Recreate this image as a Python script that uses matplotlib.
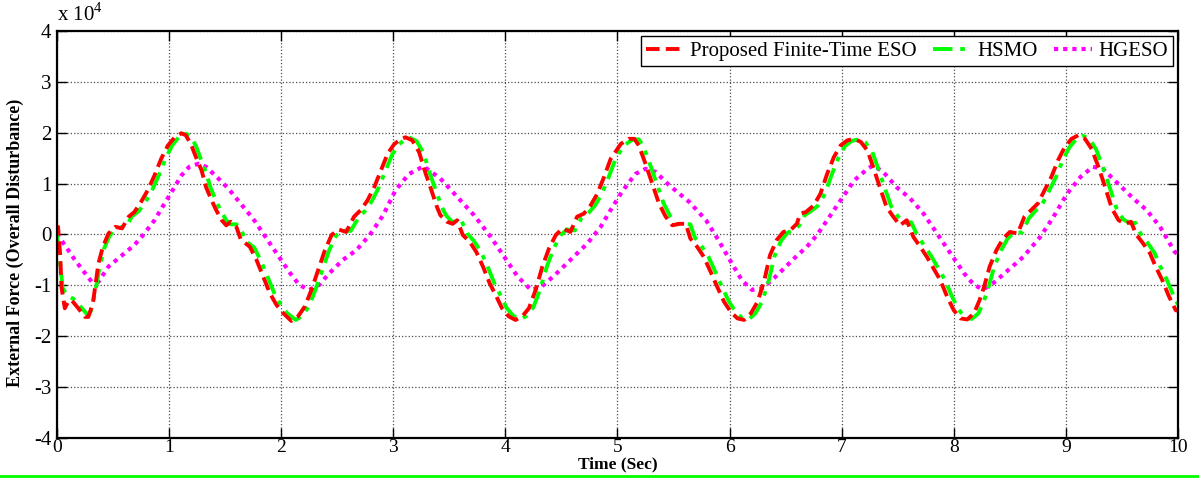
import numpy as np
import matplotlib
matplotlib.use("Agg")
import matplotlib.pyplot as plt
from matplotlib.lines import Line2D
from matplotlib.ticker import FuncFormatter

# values, force in units of 1e4 N
red_pts = [
    (0.00, 0.05), (0.01, 0.15), (0.03, -0.44), (0.04, -1.03), (0.07, -1.45), (0.10, -1.32),
    (0.13, -1.29), (0.19, -1.45), (0.25, -1.62), (0.28, -1.62), (0.32, -1.36), (0.37, -0.57),
    (0.41, -0.24), (0.46, 0.02), (0.52, 0.15), (0.58, 0.12), (0.64, 0.35), (0.69, 0.44),
    (0.75, 0.64), (0.81, 0.87), (0.87, 1.16), (0.93, 1.49), (0.99, 1.75), (1.05, 1.91),
    (1.11, 1.99), (1.15, 1.95), (1.20, 1.75), (1.24, 1.52), (1.29, 1.26), (1.33, 0.93),
    (1.38, 0.67), (1.42, 0.48), (1.47, 0.28), (1.51, 0.18), (1.55, 0.25), (1.60, 0.15),
    (1.64, -0.10), (1.72, -0.24), (1.78, -0.50), (1.84, -0.83), (1.90, -1.16), (1.96, -1.39),
    (2.02, -1.55), (2.09, -1.70), (2.15, -1.61), (2.21, -1.42), (2.27, -1.09), (2.33, -0.70),
    (2.39, -0.31), (2.45, -0.01), (2.51, 0.10), (2.58, 0.05), (2.65, 0.35), (2.71, 0.48),
    (2.77, 0.67), (2.83, 0.93), (2.89, 1.26), (2.95, 1.59), (3.01, 1.78), (3.07, 1.88),
    (3.11, 1.91), (3.17, 1.85), (3.23, 1.62), (3.29, 1.19), (3.34, 0.87), (3.39, 0.54),
    (3.42, 0.38), (3.48, 0.25), (3.53, 0.21), (3.57, 0.28), (3.62, -0.01), (3.68, -0.14),
    (3.74, -0.34), (3.80, -0.63), (3.86, -0.96), (3.92, -1.22), (3.97, -1.45), (4.03, -1.61),
    (4.09, -1.68), (4.15, -1.61), (4.21, -1.45), (4.27, -1.09), (4.33, -0.63), (4.39, -0.27),
    (4.45, -0.01), (4.51, 0.12), (4.58, 0.05), (4.64, 0.35), (4.70, 0.41), (4.76, 0.57),
    (4.82, 0.80), (4.88, 1.13), (4.94, 1.49), (4.98, 1.62), (5.03, 1.78), (5.10, 1.88),
    (5.15, 1.88), (5.19, 1.75), (5.25, 1.39), (5.31, 1.00), (5.37, 0.61), (5.43, 0.35),
    (5.49, 0.18), (5.55, 0.21), (5.61, 0.21), (5.65, -0.08), (5.71, -0.24), (5.77, -0.44),
    (5.83, -0.73), (5.89, -1.03), (5.95, -1.32), (6.01, -1.52), (6.07, -1.65), (6.13, -1.68),
    (6.19, -1.55), (6.25, -1.32), (6.31, -0.90), (6.36, -0.41), (6.42, -0.11), (6.48, 0.05),
    (6.54, 0.08), (6.60, 0.21), (6.63, 0.41), (6.68, 0.44), (6.75, 0.57), (6.81, 0.80),
    (6.87, 1.19), (6.93, 1.52), (6.99, 1.75), (7.05, 1.85), (7.11, 1.88), (7.17, 1.82),
    (7.23, 1.65), (7.28, 1.33), (7.34, 0.93), (7.40, 0.54), (7.46, 0.35), (7.52, 0.18),
    (7.58, 0.28), (7.64, -0.05), (7.70, -0.24), (7.76, -0.44), (7.82, -0.67), (7.88, -0.90),
    (7.94, -1.22), (8.00, -1.49), (8.06, -1.65), (8.12, -1.67), (8.18, -1.55), (8.23, -1.29),
    (8.27, -1.03), (8.32, -0.63), (8.38, -0.31), (8.44, -0.08), (8.50, 0.05), (8.57, 0.02),
    (8.63, 0.35), (8.69, 0.48), (8.75, 0.61), (8.81, 0.87), (8.87, 1.13), (8.93, 1.46),
    (8.99, 1.72), (9.05, 1.88), (9.11, 1.95), (9.17, 1.88), (9.23, 1.68), (9.29, 1.33),
    (9.35, 0.93), (9.41, 0.51), (9.47, 0.28), (9.53, 0.21), (9.58, 0.25), (9.63, -0.01),
    (9.69, -0.18), (9.75, -0.37), (9.80, -0.63), (9.86, -0.90), (9.92, -1.22), (9.98, -1.49),
    (10.00, -1.50),
]

green_pts = [
    (0.00, 0.00), (0.02, -0.35), (0.05, -1.05), (0.09, -1.20), (0.15, -1.27), (0.21, -1.42),
    (0.27, -1.57), (0.30, -1.52), (0.34, -1.15), (0.38, -0.65), (0.42, -0.28), (0.47, -0.02),
    (0.52, 0.10), (0.57, 0.14), (0.62, 0.17), (0.67, 0.36), (0.73, 0.46), (0.79, 0.64),
    (0.85, 0.88), (0.91, 1.17), (0.97, 1.50), (1.03, 1.76), (1.09, 1.92), (1.15, 1.98),
    (1.19, 1.94), (1.24, 1.74), (1.28, 1.50), (1.33, 1.22), (1.37, 0.92), (1.42, 0.66),
    (1.46, 0.47), (1.51, 0.28), (1.55, 0.20), (1.60, 0.20), (1.64, 0.12), (1.68, -0.12),
    (1.76, -0.26), (1.82, -0.52), (1.88, -0.84), (1.94, -1.16), (2.00, -1.40), (2.06, -1.56),
    (2.13, -1.68), (2.19, -1.60), (2.25, -1.40), (2.31, -1.06), (2.37, -0.68), (2.43, -0.30),
    (2.49, -0.02), (2.55, 0.08), (2.62, 0.07), (2.69, 0.33), (2.75, 0.47), (2.81, 0.66),
    (2.87, 0.92), (2.93, 1.25), (2.99, 1.57), (3.05, 1.77), (3.11, 1.88), (3.15, 1.90),
    (3.21, 1.83), (3.27, 1.60), (3.33, 1.18), (3.38, 0.86), (3.43, 0.55), (3.47, 0.38),
    (3.52, 0.26), (3.57, 0.24), (3.61, 0.26), (3.66, 0.02), (3.72, -0.13), (3.78, -0.33),
    (3.84, -0.62), (3.90, -0.95), (3.96, -1.21), (4.01, -1.44), (4.07, -1.60), (4.13, -1.67),
    (4.19, -1.60), (4.25, -1.43), (4.31, -1.08), (4.37, -0.63), (4.43, -0.28), (4.49, -0.02),
    (4.55, 0.10), (4.62, 0.08), (4.68, 0.33), (4.74, 0.42), (4.80, 0.57), (4.86, 0.80),
    (4.92, 1.12), (4.98, 1.47), (5.02, 1.62), (5.07, 1.77), (5.14, 1.87), (5.19, 1.87),
    (5.23, 1.74), (5.29, 1.38), (5.35, 1.00), (5.41, 0.62), (5.47, 0.36), (5.53, 0.20),
    (5.59, 0.21), (5.65, 0.20), (5.69, -0.06), (5.75, -0.23), (5.81, -0.43), (5.87, -0.72),
    (5.93, -1.02), (5.99, -1.30), (6.05, -1.51), (6.11, -1.64), (6.17, -1.67), (6.23, -1.55),
    (6.29, -1.32), (6.35, -0.90), (6.40, -0.43), (6.46, -0.12), (6.52, 0.04), (6.58, 0.09),
    (6.64, 0.22), (6.67, 0.38), (6.72, 0.45), (6.79, 0.57), (6.85, 0.80), (6.91, 1.17),
    (6.97, 1.50), (7.03, 1.74), (7.09, 1.84), (7.15, 1.87), (7.21, 1.81), (7.27, 1.64),
    (7.32, 1.33), (7.38, 0.94), (7.44, 0.56), (7.50, 0.36), (7.56, 0.22), (7.62, 0.24),
    (7.68, -0.04), (7.74, -0.23), (7.80, -0.43), (7.86, -0.66), (7.92, -0.89), (7.98, -1.20),
    (8.04, -1.47), (8.10, -1.63), (8.16, -1.66), (8.22, -1.55), (8.27, -1.30), (8.31, -1.03),
    (8.36, -0.64), (8.42, -0.32), (8.48, -0.08), (8.54, 0.04), (8.61, 0.04), (8.67, 0.32),
    (8.73, 0.47), (8.79, 0.60), (8.85, 0.86), (8.91, 1.12), (8.97, 1.45), (9.03, 1.71),
    (9.09, 1.87), (9.15, 1.94), (9.21, 1.88), (9.27, 1.67), (9.33, 1.32), (9.39, 0.93),
    (9.45, 0.52), (9.51, 0.30), (9.57, 0.22), (9.62, 0.23), (9.67, 0.00), (9.73, -0.17),
    (9.79, -0.36), (9.84, -0.62), (9.90, -0.89), (9.96, -1.20), (10.00, -1.38),
]

magenta_pts = [
    (0.00, 0.02), (0.07, -0.21), (0.16, -0.50), (0.25, -0.76), (0.31, -0.93), (0.37, -0.93),
    (0.46, -0.63), (0.58, -0.41), (0.69, -0.21), (0.78, 0.02), (0.87, 0.28), (0.96, 0.61),
    (1.04, 0.90), (1.11, 1.16), (1.18, 1.33), (1.26, 1.39), (1.33, 1.33), (1.44, 1.10),
    (1.53, 0.90), (1.63, 0.63), (1.75, 0.31), (1.87, -0.08), (1.99, -0.47), (2.08, -0.76),
    (2.16, -0.99), (2.25, -1.09), (2.34, -0.99), (2.43, -0.76), (2.55, -0.50), (2.67, -0.31),
    (2.79, -0.01), (2.91, 0.38), (3.02, 0.87), (3.14, 1.19), (3.27, 1.34), (3.42, 1.10),
    (3.57, 0.74), (3.72, 0.38), (3.87, -0.05), (3.99, -0.44), (4.11, -0.83), (4.23, -1.09),
    (4.32, -1.03), (4.44, -0.80), (4.58, -0.50), (4.73, -0.18), (4.85, 0.15), (4.93, 0.45),
    (5.04, 0.84), (5.16, 1.19), (5.25, 1.29), (5.34, 1.23), (5.46, 0.97), (5.64, 0.64),
    (5.79, 0.28), (5.90, -0.11), (6.02, -0.57), (6.11, -0.90), (6.20, -1.09), (6.29, -1.06),
    (6.41, -0.83), (6.53, -0.57), (6.60, -0.42), (6.69, -0.24), (6.78, -0.01), (6.87, 0.28),
    (6.99, 0.67), (7.11, 1.06), (7.23, 1.29), (7.28, 1.36), (7.37, 1.23), (7.49, 0.93),
    (7.61, 0.71), (7.73, 0.41), (7.85, 0.02), (7.97, -0.37), (8.09, -0.76), (8.18, -0.99),
    (8.26, -1.08), (8.35, -0.96), (8.47, -0.73), (8.62, -0.44), (8.77, -0.05), (8.89, 0.35),
    (9.01, 0.80), (9.13, 1.13), (9.24, 1.33), (9.33, 1.29), (9.45, 1.03), (9.60, 0.71),
    (9.72, 0.48), (9.84, 0.15), (9.97, -0.34), (10.00, -0.40),
]

labels = ["Proposed Finite-Time ESO", "HSMO", "HGESO"]
x_ticks = list(range(0, 11))
y_ticks = list(range(-4, 5))
scale = 1e4

plt.rcParams["font.family"] = ["Liberation Serif", "DejaVu Serif"]
plt.rcParams["mathtext.fontset"] = "custom"
plt.rcParams["mathtext.rm"] = "Liberation Serif"

fig = plt.figure(figsize=(11.99, 4.95), dpi=100)
ax = fig.add_axes([0.0475, 0.1152, 0.935, 0.8222])

t_r, y_r = np.array(red_pts).T
t_g, y_g = np.array(green_pts).T
t_m, y_m = np.array(magenta_pts).T

ax.plot(t_m, y_m * scale, color=(1, 0, 1), ls=(0, (1, 1.2)), lw=3, label=labels[2])
ax.plot(t_g, y_g * scale, color=(0, 1, 0), ls=(0, (5, 2, 1.2, 2)), lw=2.8, label=labels[1])
ax.plot(t_r, y_r * scale, color=(1, 0, 0), ls=(0, (3.5, 1.6)), lw=2.8, label=labels[0])

ax.set_xlim(0, 10)
ax.set_ylim(-4 * scale, 4 * scale)
ax.set_xticks(x_ticks)
ax.set_yticks([v * scale for v in y_ticks])
ax.yaxis.set_major_formatter(FuncFormatter(lambda v, p: "%d" % round(v / scale)))
ax.grid(True, color="0.3", ls=":", lw=0.9)
ax.tick_params(direction="in", length=7, width=1, top=True, right=True, labelsize=15, pad=4)
ax.tick_params(axis="x", labelsize=14, pad=1)
for s in ax.spines.values():
    s.set_linewidth(1.6)

ax.set_xlabel("Time (Sec)", fontsize=12.5, fontweight="bold", labelpad=0)
ax.set_ylabel("External Force (Overall Disturbance)", fontsize=13, fontweight="bold")
ax.yaxis.set_label_coords(-0.029, 0.48)
ax.text(0.0, 1.012, r"x 10$^{4}$", transform=ax.transAxes, fontsize=15, ha="left", va="bottom")

h, l = ax.get_legend_handles_labels()
order = [2, 1, 0]
leg = ax.legend([h[i] for i in order], [l[i] for i in order], loc="upper right", ncol=3,
                fontsize=15, fancybox=False, edgecolor="k", framealpha=1, handlelength=1.8,
                handletextpad=0.3, columnspacing=0.8, borderpad=0.25, borderaxespad=0.25)
leg.get_frame().set_linewidth(1.0)

fig.add_artist(Line2D([0, 1], [0.0384, 0.0384], color=(0, 1, 0), lw=2, transform=fig.transFigure))

fig.savefig("out.png", dpi=100)
